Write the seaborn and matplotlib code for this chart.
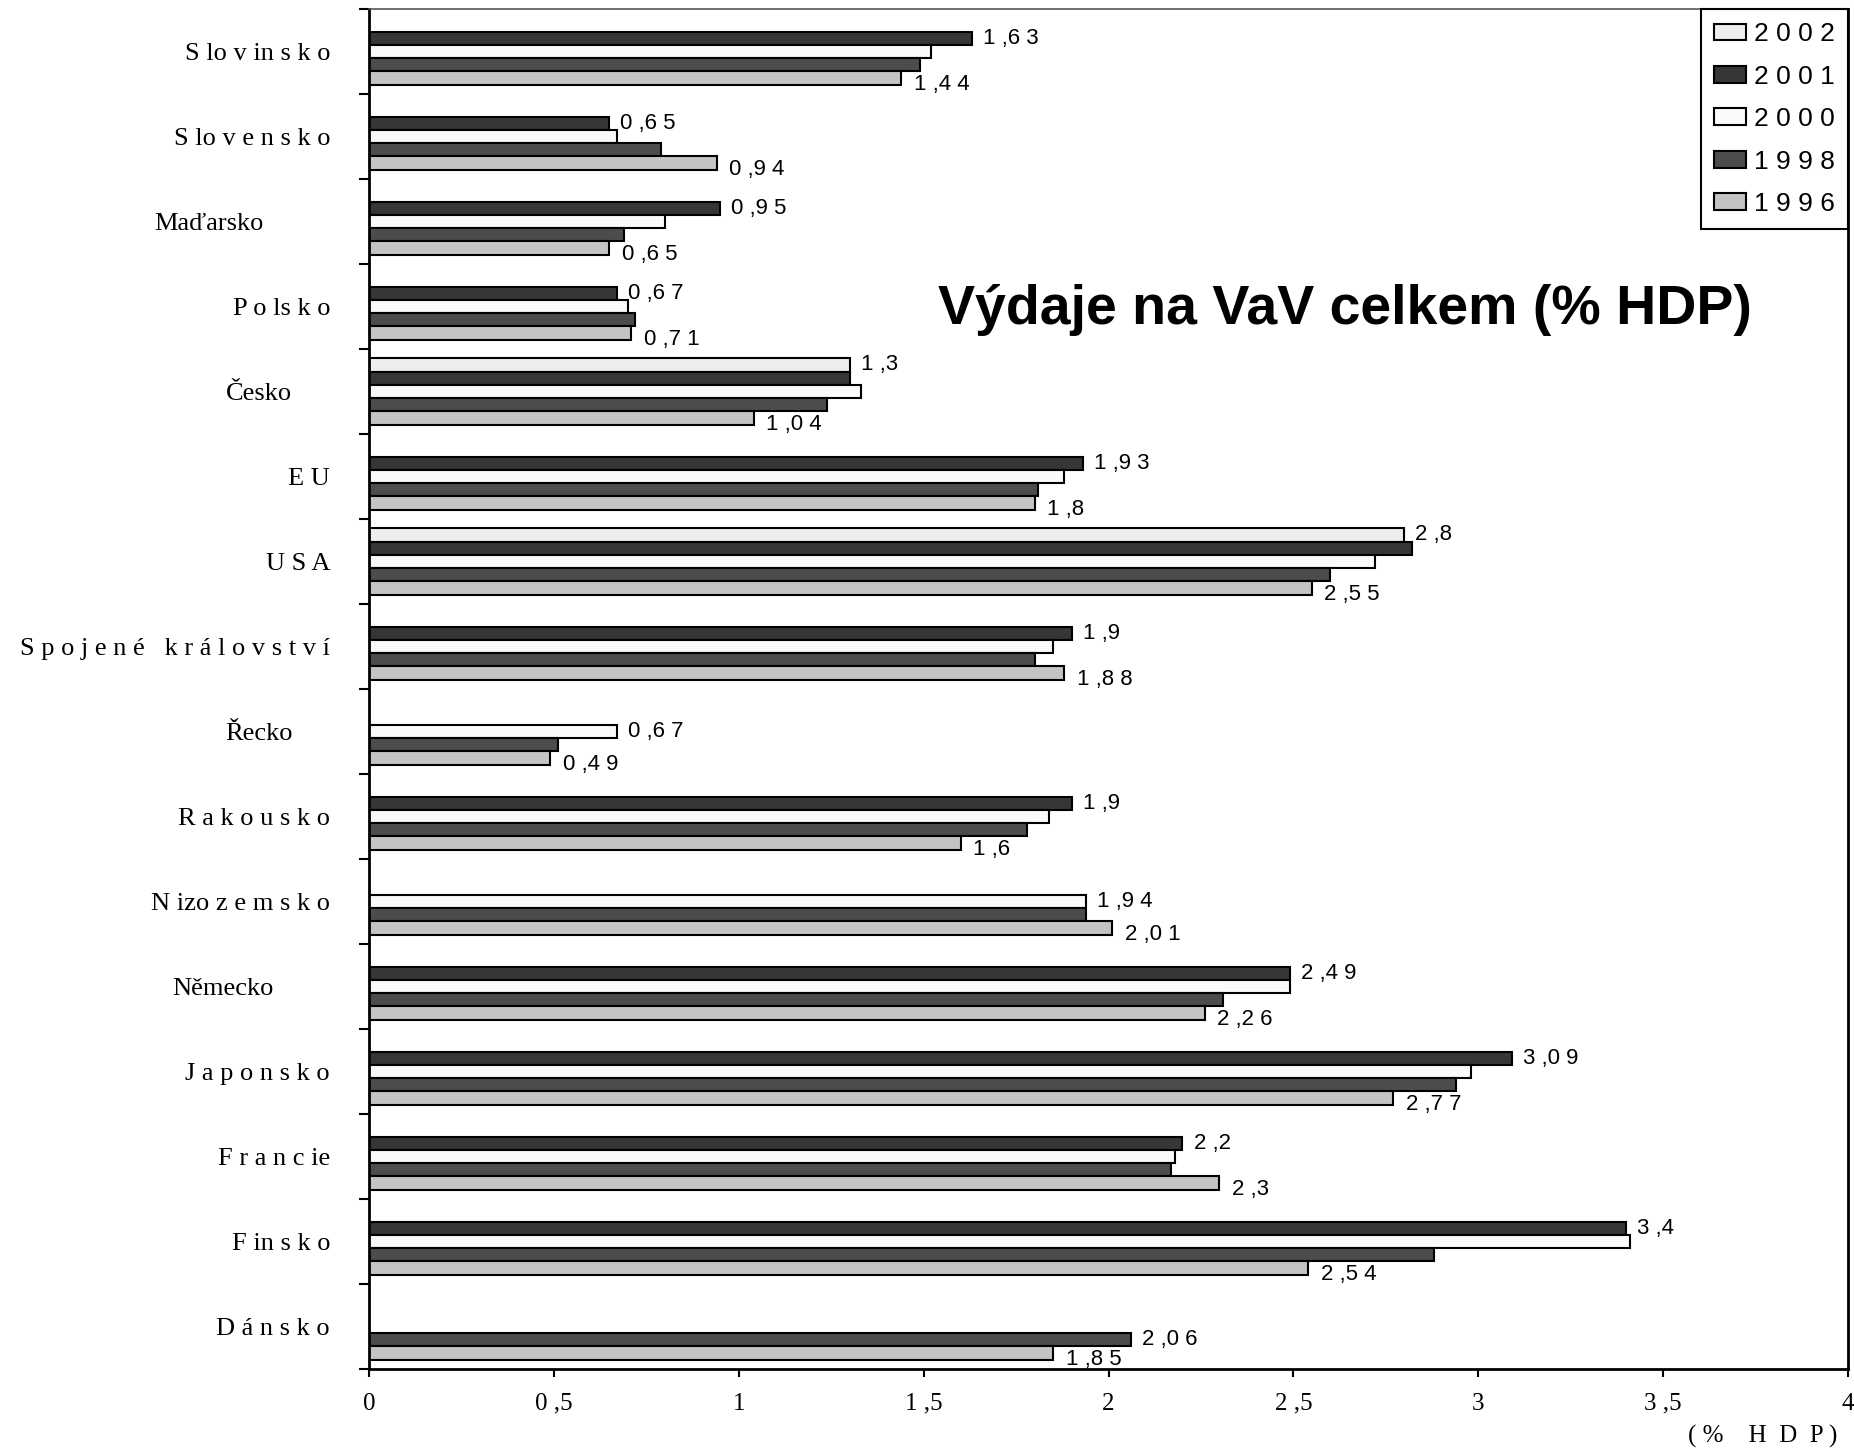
import numpy as np
import pandas as pd
import seaborn as sns
import matplotlib.pyplot as plt
from matplotlib.transforms import ScaledTranslation

nan = np.nan

years = ["2002", "2001", "2000", "1998", "1996"]
countries = ["Slovinsko", "Slovensko", "Maďarsko", "Polsko", "Česko", "EU", "USA",
             "Spojené království", "Řecko", "Rakousko", "Nizozemsko", "Německo",
             "Japonsko", "Francie", "Finsko", "Dánsko"]
country_labels = ["S lo v in s k o", "S lo v e n s k o", "Maďarsko", "P o ls k o", "Česko",
                  "E U", "U S A", "S p o j e n é   k r á l o v s t v í", "Řecko",
                  "R a k o u s k o", "N izo z e m s k o", "Německo", "J a p o n s k o",
                  "F r a n c ie", "F in s k o", "D á n s k o"]

v2002 = [nan, nan, nan, nan, 1.30, nan, 2.80, nan, nan, nan, nan, nan, nan, nan, nan, nan]
v2001 = [1.63, 0.65, 0.95, 0.67, 1.30, 1.93, 2.82, 1.90, nan, 1.90, nan, 2.49, 3.09, 2.20, 3.40, nan]
v2000 = [1.52, 0.67, 0.80, 0.70, 1.33, 1.88, 2.72, 1.85, 0.67, 1.84, 1.94, 2.49, 2.98, 2.18, 3.41, nan]
v1998 = [1.49, 0.79, 0.69, 0.72, 1.24, 1.81, 2.60, 1.80, 0.51, 1.78, 1.94, 2.31, 2.94, 2.17, 2.88, 2.06]
v1996 = [1.44, 0.94, 0.65, 0.71, 1.04, 1.80, 2.55, 1.88, 0.49, 1.60, 2.01, 2.26, 2.77, 2.30, 2.54, 1.85]

x_ticks = [0, 0.5, 1, 1.5, 2, 2.5, 3, 3.5, 4]
colors = ["#eeeeee", "#363636", "#fafafa", "#4c4c4c", "#c4c4c4"]


def spaced_number(v, gap=" "):
    s = f"{v:.2f}".rstrip("0").rstrip(".")
    if "." in s:
        whole, dec = s.split(".")
        return whole + gap + "," + gap.join(dec)
    return s


# long table for seaborn
rows = []
for year, vals in zip(years, [v2002, v2001, v2000, v1998, v1996]):
    for c, v in zip(countries, vals):
        rows.append({"country": c, "year": year, "value": v})
df = pd.DataFrame(rows).dropna()

sns.set_style("white")
plt.rcParams["font.family"] = ["Liberation Serif", "DejaVu Serif"]
plt.rcParams["text.color"] = "black"
plt.rcParams["xtick.color"] = "black"
plt.rcParams["ytick.color"] = "black"

fig = plt.figure(figsize=(18.54, 14.5), dpi=100)
ax = fig.add_axes([0.199, 0.0559, 0.7978, 0.9379])

sns.barplot(data=df, x="value", y="country", hue="year", order=countries,
            hue_order=years, palette=colors, orient="h", width=0.78,
            edgecolor="black", linewidth=1.5, ax=ax, legend=True)

ax.set_xlim(0, 4)
ax.set_ylim(15.5, -0.5)

# value labels on first and last bar of every group
groups = {}
for p in ax.patches:
    w = p.get_width()
    if not np.isfinite(w) or w <= 0:
        continue
    yc = p.get_y() + p.get_height() / 2
    groups.setdefault(int(round(yc)), []).append((yc, w))
for k, bars in groups.items():
    bars.sort()
    (y0, w0), (y1, w1) = bars[0], bars[-1]
    ax.annotate(spaced_number(w0), (w0, y0), xytext=(8, 0), textcoords="offset points",
                ha="left", va="center", fontsize=16, family="Liberation Sans")
    ax.annotate(spaced_number(w1), (w1, y1), xytext=(9, -5), textcoords="offset points",
                ha="left", va="center", fontsize=16, family="Liberation Sans")

# axes, ticks
ax.set_xlabel("")
ax.set_ylabel("")
ax.set_xticks(x_ticks)
ax.set_xticklabels(["0" if t == 0 else spaced_number(t) for t in x_ticks], fontsize=18)
ax.set_yticks(range(len(countries)))
ax.set_yticklabels(country_labels, fontsize=19)
ax.set_yticks(np.arange(-0.5, len(countries), 1), minor=True)
ax.tick_params(axis="y", which="major", length=0, pad=28)
ax.tick_params(axis="y", which="minor", length=7, width=1.5, direction="out", left=True)
ax.tick_params(axis="x", length=6, width=1.5, direction="out", bottom=True, pad=11)

shift = {"Maďarsko": 66, "Česko": 38, "Řecko": 37, "Německo": 56}
for lab in ax.get_yticklabels():
    dx = shift.get(lab.get_text(), 0)
    if dx:
        lab.set_transform(lab.get_transform() + ScaledTranslation(-dx / 100, 0, fig.dpi_scale_trans))

for side in ["left", "bottom", "right"]:
    ax.spines[side].set_color("black")
    ax.spines[side].set_linewidth(2)
ax.spines["top"].set_color("#555555")
ax.spines["top"].set_linewidth(1.2)

ax.text(0.993, -0.05, "( %    H  D  P )", transform=ax.transAxes, ha="right",
        va="center", fontsize=18)
ax.text(0.66, 0.779, "Výdaje na VaV celkem (% HDP)", transform=ax.transAxes,
        ha="center", va="center", fontsize=40, fontweight="bold",
        family="Liberation Sans", color="black")

handles, labels = ax.get_legend_handles_labels()
leg = ax.legend(handles, [" ".join(l) for l in labels], loc="upper right",
                bbox_to_anchor=(1, 1), fancybox=False, edgecolor="black",
                prop={"family": "Liberation Sans", "size": 19}, handlelength=1.2,
                handleheight=0.6, handletextpad=0.3, labelspacing=0.7,
                borderpad=0.5, borderaxespad=0)
leg.get_frame().set_linewidth(1.5)
leg.get_frame().set_alpha(1)

fig.savefig("out.png", dpi=100)
plt.close(fig)
